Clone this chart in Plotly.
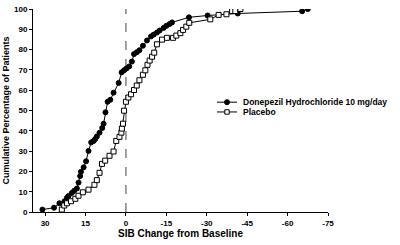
import plotly.graph_objects as go

donepezil_x = [31, 26.7, 24.7, 22.8, 21.9, 21.3, 20.1, 19.2, 18.2, 17.6, 17.0, 16.7, 15.7, 14.8, 13.9, 12.9, 12.0, 11.4, 10.8, 9.8, 8.8, 8.3, 7.6, 6.8, 5.8, 4.6, 2.7, 1.6, 0.7, -0.2, -1.2, -2.2, -3.0, -4.0, -5.0, -6.3, -7.8, -9.3, -10.3, -11.5, -12.5, -14.0, -15.0, -16.2, -17.1, -23.4, -30.3, -41.5, -65.4, -67.5]
donepezil_y = [1.2, 2.1, 4.3, 5.3, 7.0, 7.9, 9.4, 10.5, 11.6, 14.5, 17.7, 19.8, 22.0, 25.0, 30.1, 34.3, 35.0, 35.9, 37.2, 39.1, 41.4, 43.5, 49.1, 54.3, 55.3, 58.8, 63.6, 68.8, 69.8, 70.7, 71.7, 74.1, 77.8, 78.7, 79.7, 81.9, 84.5, 86.5, 87.4, 88.4, 89.4, 90.7, 91.7, 92.6, 93.4, 95.9, 96.8, 97.8, 98.9, 100]

placebo_x = [23.8, 22.9, 21.9, 20.4, 18.8, 17.6, 16.0, 13.9, 11.7, 10.8, 9.8, 8.9, 7.7, 6.1, 4.6, 3.6, 2.4, 1.7, 1.5, 1.1, 0.7, 0.0, -0.9, -1.9, -3.0, -4.0, -5.0, -6.3, -7.2, -8.0, -8.8, -9.7, -10.5, -11.5, -13.4, -15.2, -17.5, -18.7, -20.2, -21.2, -22.4, -23.5, -31.3, -34.4, -37.3, -39.4, -40.6, -42.5]
placebo_y = [1.2, 3.2, 4.3, 5.3, 6.5, 8.0, 9.7, 11.0, 13.4, 15.7, 19.3, 23.7, 25.3, 27.7, 29.8, 35.0, 37.0, 39.1, 41.1, 43.5, 49.9, 54.3, 56.4, 58.0, 60.1, 62.3, 64.9, 67.6, 69.8, 72.5, 74.6, 76.5, 78.5, 82.6, 84.9, 85.8, 85.8, 86.9, 88.1, 89.7, 91.3, 93.2, 94.9, 97.1, 97.4, 99.0, 99.0, 100]

x_ticks = [30, 15, 0, -15, -30, -45, -60, -75]
y_ticks = [0, 10, 20, 30, 40, 50, 60, 70, 80, 90, 100]

series_names = ["Donepezil Hydrochloride 10 mg/day", "Placebo"]

font_family = "Liberation Sans, Arial, sans-serif"

fig = go.Figure()
fig.add_trace(go.Scatter(
    x=donepezil_x, y=donepezil_y, mode="lines+markers",
    name=series_names[0], showlegend=False,
    line=dict(color="black", width=1),
    marker=dict(symbol="circle", size=5, color="black", line=dict(color="black", width=1)),
))
fig.add_trace(go.Scatter(
    x=placebo_x, y=placebo_y, mode="lines+markers",
    name=series_names[1], showlegend=False,
    line=dict(color="black", width=1),
    marker=dict(symbol="square", size=5, color="white", line=dict(color="black", width=1)),
))

fig.add_shape(type="line", x0=0, x1=0, y0=0, y1=100, xref="x", yref="y",
              line=dict(color="#444", width=1, dash="dash"), layer="below")

# custom compact legend
leg_x0, leg_x1, leg_xm, leg_tx = 0.6237, 0.6915, 0.6576, 0.705
leg_rows = [0.541, 0.4928]
for i, (name, yy) in enumerate(zip(series_names, leg_rows)):
    fig.add_shape(type="line", xref="paper", yref="paper", x0=leg_x0, x1=leg_x1, y0=yy, y1=yy,
                  line=dict(color="black", width=1))
    if i == 0:
        fig.add_shape(type="circle", xref="paper", yref="paper", xsizemode="pixel", ysizemode="pixel",
                      xanchor=leg_xm, yanchor=yy, x0=-2.5, x1=2.5, y0=-2.5, y1=2.5,
                      fillcolor="black", line=dict(color="black", width=1))
    else:
        fig.add_shape(type="rect", xref="paper", yref="paper", xsizemode="pixel", ysizemode="pixel",
                      xanchor=leg_xm, yanchor=yy, x0=-2.2, x1=2.2, y0=-2.2, y1=2.2,
                      fillcolor="white", line=dict(color="black", width=1))
    fig.add_annotation(xref="paper", yref="paper", x=leg_tx, y=yy, xanchor="left", yanchor="middle",
                       text="<b>%s</b>" % name, showarrow=False, font=dict(size=8.5, family=font_family))

fig.update_layout(
    width=400, height=245,
    margin=dict(l=33, r=72, t=5, b=33),
    paper_bgcolor="white", plot_bgcolor="white",
    font=dict(family=font_family, color="black", size=8),
    showlegend=False,
    xaxis=dict(range=[34.5, -75], tickvals=x_ticks,
               ticktext=["<b>%d</b>" % v for v in x_ticks],
               showline=True, linecolor="black", linewidth=1,
               ticks="outside", ticklen=3, tickcolor="black",
               showgrid=False, zeroline=False,
               tickfont=dict(size=8),
               title=dict(text="<b>SIB Change from Baseline</b>", font=dict(size=10), standoff=3)),
    yaxis=dict(range=[0, 100], tickvals=y_ticks,
               ticktext=["<b>%d</b>" % v for v in y_ticks],
               showline=True, linecolor="black", linewidth=1,
               ticks="outside", ticklen=3, tickcolor="black",
               showgrid=False, zeroline=False,
               tickfont=dict(size=8),
               title=dict(text="<b>Cumulative Percentage of Patients</b>", font=dict(size=9), standoff=2)),
)

fig.write_html("out.html")
